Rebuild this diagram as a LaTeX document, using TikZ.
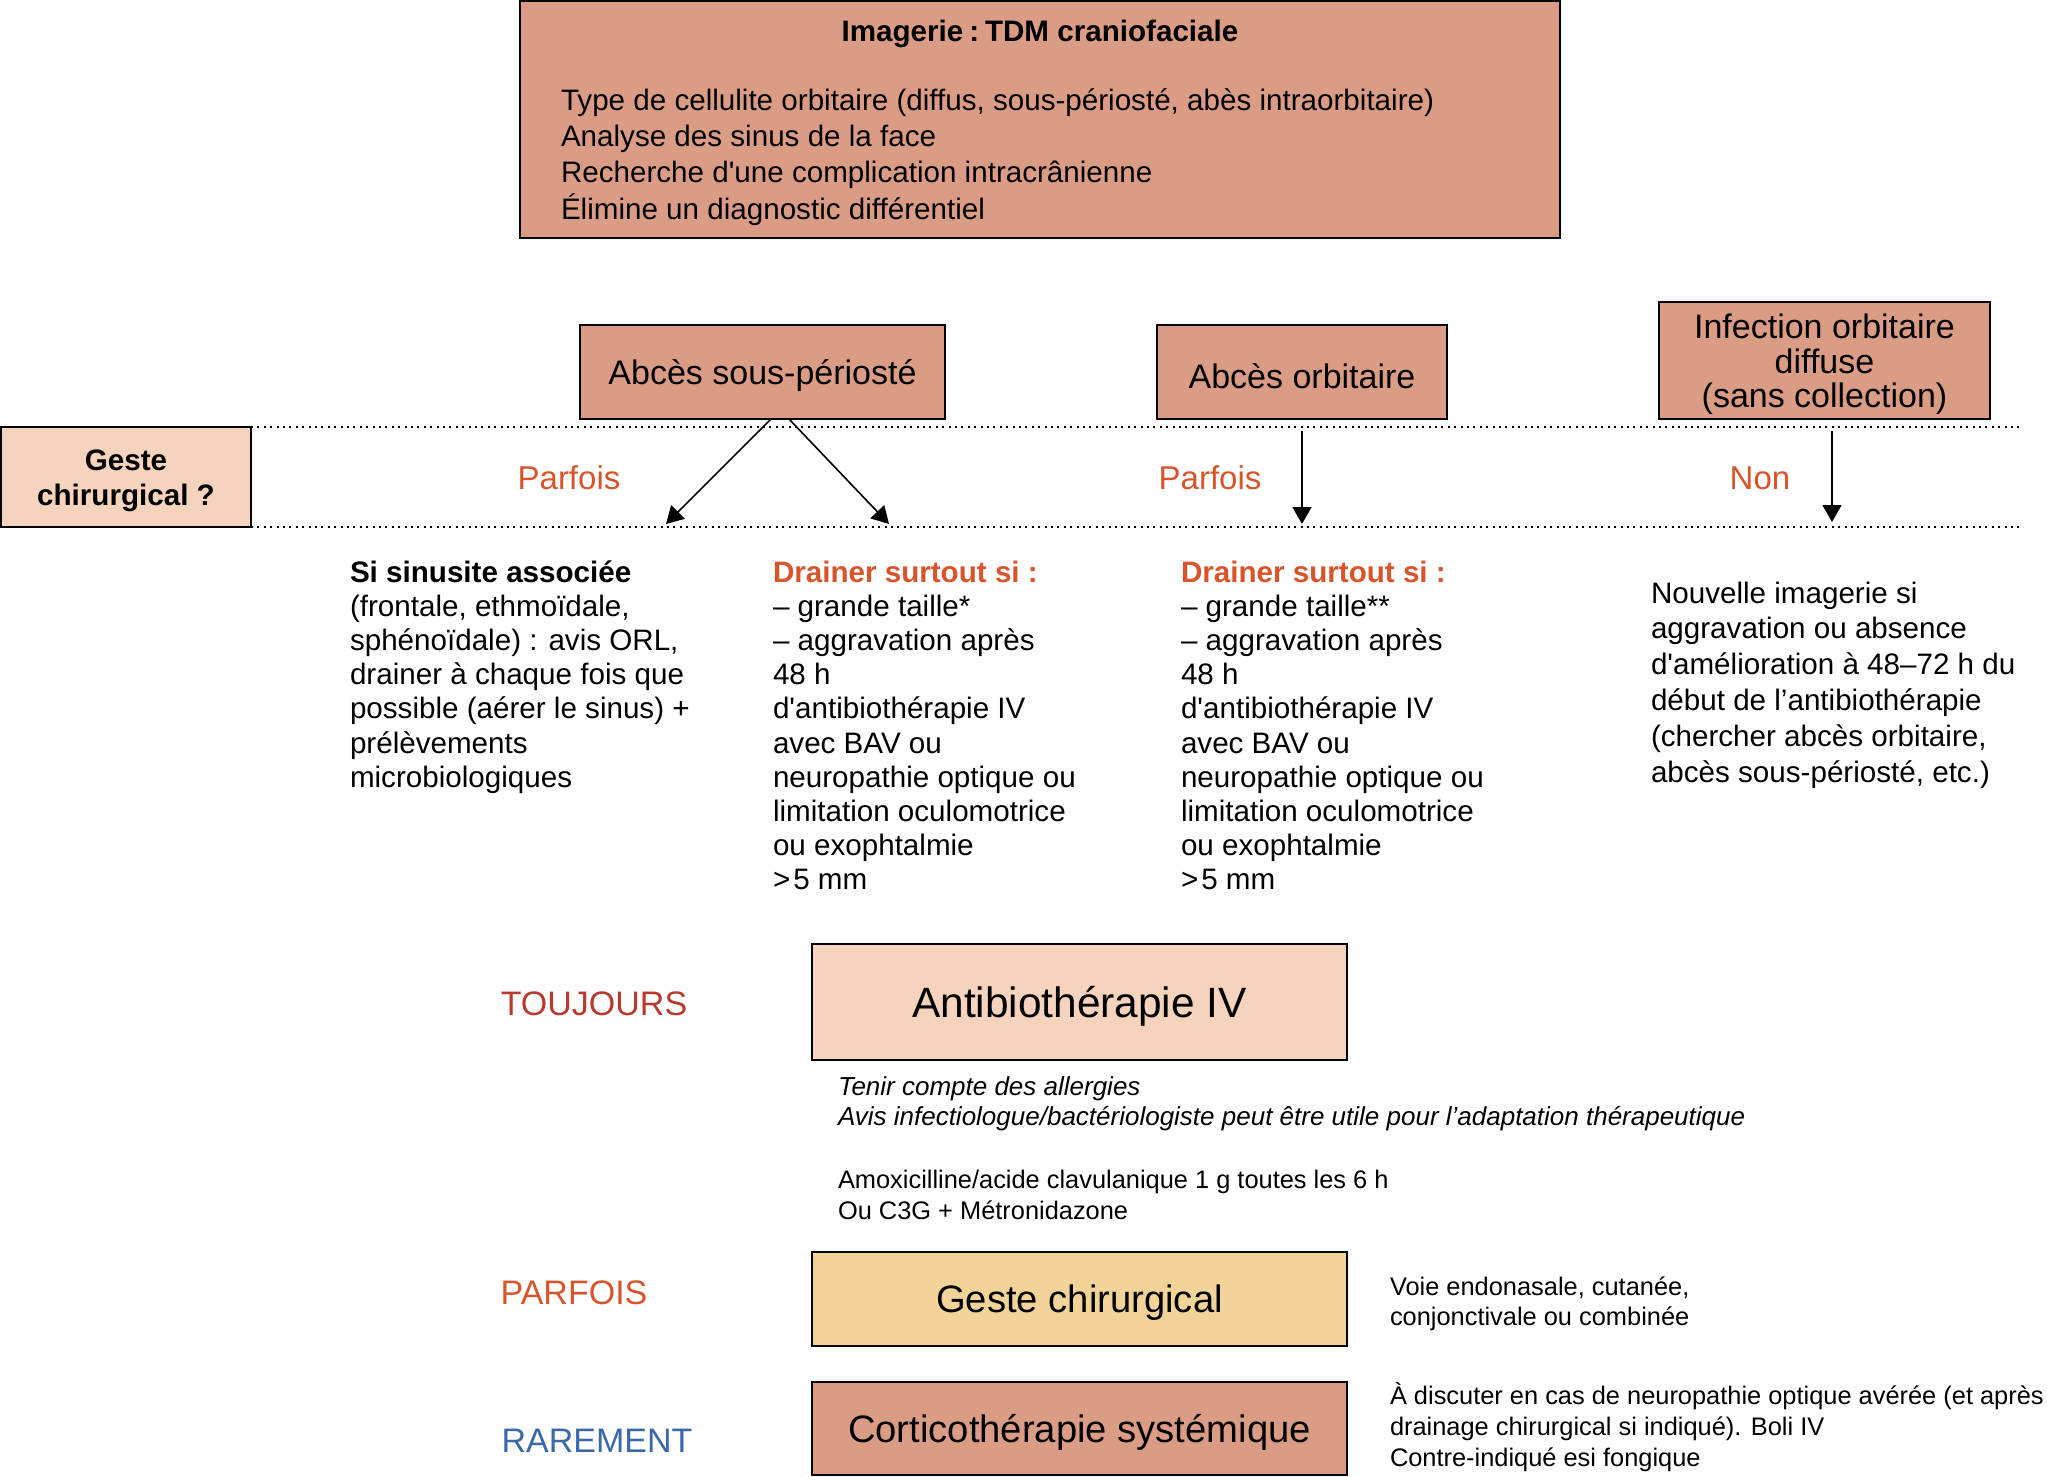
\documentclass[tikz,border=0pt]{standalone}
\usepackage{fontspec}
\newfontfamily\arialf{Liberation Sans}
\usetikzlibrary{arrows.meta,fit}

\definecolor{salmon}{HTML}{DB9C85}
\definecolor{peach}{HTML}{F5D3BC}
\definecolor{sand}{HTML}{F2D398}
\definecolor{orangetxt}{HTML}{D8552B}
\definecolor{redtxt}{HTML}{B73A2F}
\definecolor{bluetxt}{HTML}{3A68AA}

\newcommand{\txtblk}[1]{\begin{tabular}[t]{@{}l@{}}#1\end{tabular}}

\tikzset{
  box/.style={draw=black, line width=0.9pt, inner sep=0pt, outer sep=0pt},
  inlbl/.style={anchor=center, inner sep=0pt, outer sep=0pt, align=center, yshift=-2pt},
  lbl17/.style={inlbl, font=\fontsize{17}{17.3}\selectfont},
  body/.style={anchor=base west, inner sep=0pt, outer sep=0pt, font=\fontsize{14.8}{17.1}\selectfont},
  bodytop/.style={body, font=\fontsize{14.8}{18.1}\selectfont},
  bodyni/.style={body, font=\fontsize{14.8}{17.9}\selectfont},
  small/.style={anchor=base west, inner sep=0pt, outer sep=0pt, font=\fontsize{12.7}{15.3}\selectfont},
  smallit/.style={anchor=base west, inner sep=0pt, outer sep=0pt, font=\itshape\fontsize{13}{15}\selectfont},
  side/.style={anchor=base, inner sep=0pt, outer sep=0pt, font=\fontsize{17}{17}\selectfont},
  cond/.style={anchor=base, inner sep=0pt, outer sep=0pt, text=orangetxt, font=\fontsize{16.5}{16.5}\selectfont},
  sep/.style={line width=1pt, dash pattern=on 1pt off 2.2pt},
  arr/.style={line width=0.8pt, -{Triangle[length=8.5pt,width=9.5pt]}}
}

\begin{document}
\arialf
\begin{tikzpicture}[x=0.5pt, y=-0.5pt]
\useasboundingbox (0,0) rectangle (2047,1477);

% top imaging box
\node[box, fill=salmon, fit={(520,1) (1560,238)}] (imag) {};
\node[anchor=base, inner sep=0pt, font=\bfseries\fontsize{14.8}{18}\selectfont] (imagt) at (1040,42) {Imagerie\hspace{0.2em}:\hspace{0.2em}TDM craniofaciale};
\node[bodytop] (imagl) at (561,110.5) {\txtblk{Type de cellulite orbitaire (diffus, sous-périosté, abès intraorbitaire)\\Analyse des sinus de la face\\Recherche d'une complication intracrânienne\\Élimine un diagnostic différentiel}};

% three kinds
\node[box, fill=salmon, fit={(580,325) (945,419)}] (asp) {};
\node[lbl17] (aspt) at (asp.center) {Abcès sous-périosté};
\node[box, fill=salmon, fit={(1157,325) (1447,419)}] (ao) {};
\node[lbl17] (aot) at (ao.center) {Abcès orbitaire};
\node[box, fill=salmon, fit={(1659,302) (1990,419)}] (iod) {};
\node[lbl17] (iodt) at (iod.center) {Infection orbitaire\\diffuse\\(sans collection)};

% geste chirurgical ?
\node[box, fill=peach, fit={(1,427) (251,527)}] (gq) {};
\node[inlbl, font=\bfseries\fontsize{14.8}{17.6}\selectfont] (gqt) at (gq.center) {Geste\\chirurgical ?};

% dotted separators
\coordinate (d1e) at (2021,427);
\coordinate (d2e) at (2021,527);
\draw[sep] (gq.north east) -- (d1e);
\draw[sep] (gq.south east) -- (d2e);

% condition labels
\node[cond] (c1) at (569,489) {Parfois};
\node[cond] (c2) at (1210,489) {Parfois};
\node[cond] (c3) at (1760,489) {Non};

% arrows
\coordinate (a1e) at (666,524);
\coordinate (a2e) at (889,524);
\coordinate (a3e) at (1302,524);
\coordinate (a4e) at (1832,522);
\draw[arr] ([xshift=4.25pt]asp.south) -- (a1e);
\draw[arr] ([xshift=13.25pt]asp.south) -- (a2e);
\draw[arr, shorten <=6pt] (ao.south) -- (a3e);
\draw[arr, shorten <=6pt] ([xshift=3.75pt]iod.south) -- (a4e);

% text blocks
\node[body] (ss) at (350,582) {\txtblk{\textbf{Si sinusite associée}\\(frontale, ethmoïdale,\\sphénoïdale) : avis ORL,\\drainer à chaque fois que\\possible (aérer le sinus) +\\prélèvements\\microbiologiques}};
\node[body] (ds1) at (773,582) {\txtblk{\textcolor{orangetxt}{\textbf{Drainer surtout si :}}\\– grande taille*\\– aggravation après\\48 h\\d'antibiothérapie IV\\avec BAV ou\\neuropathie optique ou\\limitation oculomotrice\\ou exophtalmie\\>\hspace{0.1em}5 mm}};
\node[body] (ds2) at (1181,582) {\txtblk{\textcolor{orangetxt}{\textbf{Drainer surtout si :}}\\– grande taille**\\– aggravation après\\48 h\\d'antibiothérapie IV\\avec BAV ou\\neuropathie optique ou\\limitation oculomotrice\\ou exophtalmie\\>\hspace{0.1em}5 mm}};
\node[bodyni] (ni) at (1651,603) {\txtblk{Nouvelle imagerie si\\aggravation ou absence\\d'amélioration à 48–72 h du\\début de l’antibiothérapie\\(chercher abcès orbitaire,\\abcès sous-périosté, etc.)}};

% treatment part
\node[side, text=redtxt] (tj) at (594,1015) {TOUJOURS};
\node[box, fill=peach, fit={(812,944) (1347,1060)}] (abx) {};
\node[inlbl, font=\fontsize{21.2}{22}\selectfont] (abxt) at (abx.center) {Antibiothérapie IV};
\node[smallit] (abxi) at (838,1095) {\txtblk{Tenir compte des allergies\\Avis infectiologue/bactériologiste peut être utile pour l’adaptation thérapeutique}};
\node[small, font=\fontsize{12.7}{15.5}\selectfont] (amox) at (838,1188) {\txtblk{Amoxicilline/acide clavulanique 1 g toutes les 6 h\\Ou C3G + Métronidazone}};

\node[side, text=orangetxt] (pf) at (574,1304) {PARFOIS};
\node[box, fill=sand, fit={(812,1252) (1347,1346)}] (gc) {};
\node[inlbl, font=\fontsize{19.1}{20}\selectfont] (gct) at (gc.center) {Geste chirurgical};
\node[small, font=\fontsize{12.7}{15}\selectfont] (voie) at (1390,1295) {\txtblk{Voie endonasale, cutanée,\\conjonctivale ou combinée}};

\node[side, text=bluetxt] (rr) at (597,1452) {RAREMENT};
\node[box, fill=salmon, fit={(812,1382) (1347,1475)}] (cs) {};
\node[inlbl, font=\fontsize{19.1}{20}\selectfont] (cst) at (cs.center) {Corticothérapie systémique};
\node[small, font=\fontsize{12.7}{15.5}\selectfont] (disc) at (1390,1404) {\txtblk{À discuter en cas de neuropathie optique avérée (et après\\drainage chirurgical si indiqué). Boli IV\\Contre-indiqué esi fongique}};
\end{tikzpicture}
\end{document}
